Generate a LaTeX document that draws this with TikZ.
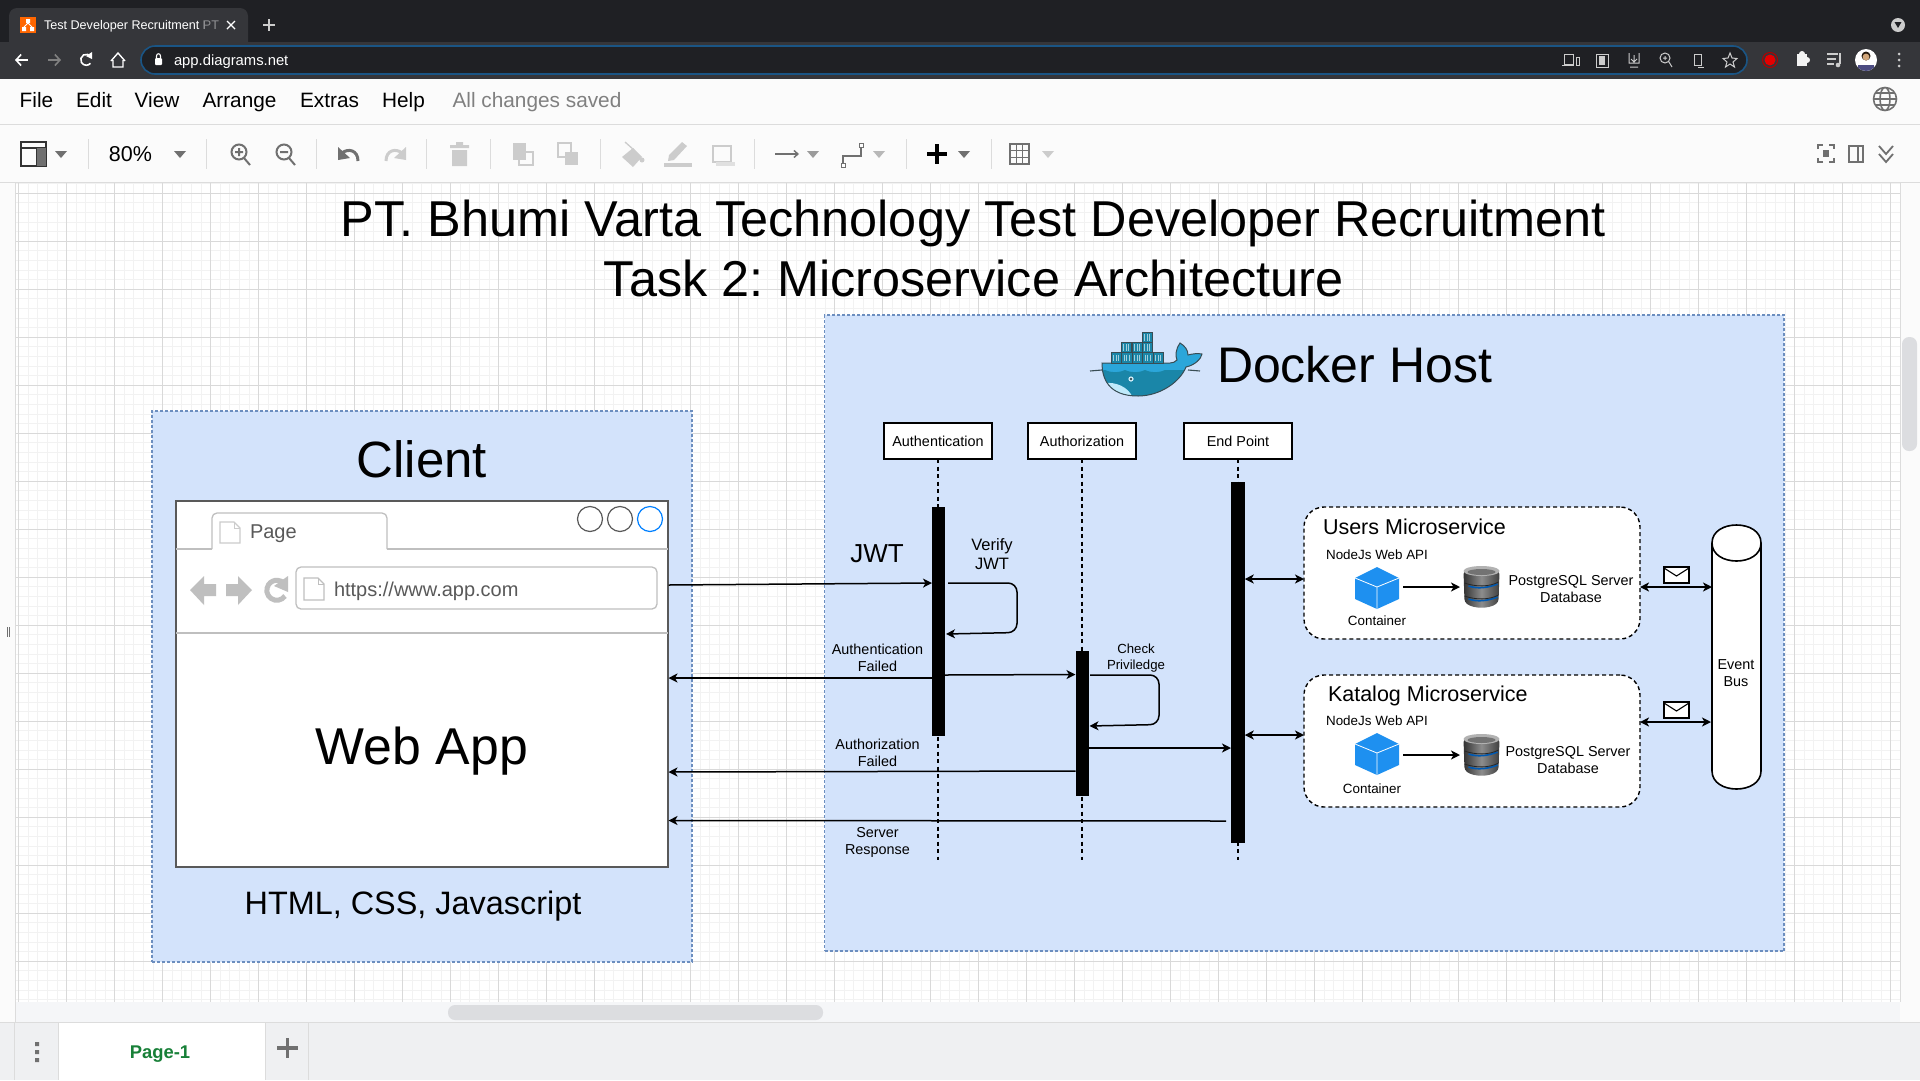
\documentclass[tikz,border=0pt]{standalone}
\usepackage{fontspec}
\setmainfont{Liberation Sans}
\usetikzlibrary{arrows.meta,calc}
\frenchspacing
\definecolor{chromeDark}{HTML}{1F2024}
\definecolor{chromeMid}{HTML}{35363A}
\definecolor{urlBorder}{HTML}{1A5585}
\definecolor{barBg}{HTML}{FBFBFB}
\definecolor{sepLine}{HTML}{DCDCDC}
\definecolor{gridMajor}{HTML}{D9D9D9}
\definecolor{gridMinor}{HTML}{F2F2F2}
\definecolor{boxFill}{HTML}{D3E3FB}
\definecolor{boxEdge}{HTML}{6C8EBF}
\definecolor{iconDim}{HTML}{CCCCCC}
\definecolor{iconMid}{HTML}{707070}
\definecolor{cubeBlue}{HTML}{1E90F0}
\definecolor{whaleLight}{HTML}{2BA6DA}
\definecolor{whaleDark}{HTML}{1A86A8}
\definecolor{whaleEdge}{HTML}{394D54}
\definecolor{bottomBg}{HTML}{EFF0F2}
\definecolor{scrollBg}{HTML}{F5F6F8}
\definecolor{scrollThumb}{HTML}{DCDDE0}
\definecolor{pageGreen}{HTML}{188038}
\newcommand{\pxf}[1]{\fontsize{#1}{\the\dimexpr #1pt*118/100\relax}\selectfont}
\newcommand{\tbtri}[2]{\fill[#2] (#1-6,151) -- (#1+6,151) -- (#1,158) -- cycle;}
\newcommand{\cubeicon}[2]{%
  \fill[cubeBlue] (#1,#2-21) -- (#1+22,#2-10) -- (#1+22,#2+11) -- (#1,#2+21) -- (#1-22,#2+11) -- (#1-22,#2-10) -- cycle;
  \draw[white,line width=.8pt] (#1-22,#2-10) -- (#1,#2-1) -- (#1+22,#2-10) (#1,#2-1) -- (#1,#2+21);}
\newcommand{\dbicon}[2]{%
  \shade[left color=black!80,right color=black!75,middle color=black!45,rounded corners=3pt]
    (#1-18,#2-16) -- (#1+18,#2-16) -- (#1+17,#2+15) .. controls (#1+8,#2+22) and (#1-8,#2+22) .. (#1-17,#2+15) -- cycle;
  \fill[black!30] (#1,#2-16) ellipse (18 and 5);
  \fill[black!55] (#1,#2-15) ellipse (14 and 3);
  \draw[line width=1.6pt,blue!50!cyan!70!black] (#1-13,#2-1) .. controls (#1-4,#2+2) and (#1+6,#2+1) .. (#1+16,#2-3);
  \draw[line width=1.6pt,blue!50!cyan!70!black] (#1-13,#2+12) .. controls (#1-4,#2+15) and (#1+6,#2+14) .. (#1+16,#2+10);
  \draw[black!85,line width=.8pt] (#1-17,#2-4) .. controls (#1-6,#2) and (#1+8,#2) .. (#1+17,#2-5);
  \draw[black!85,line width=.8pt] (#1-17,#2+9) .. controls (#1-6,#2+13) and (#1+8,#2+13) .. (#1+17,#2+8);}
\newcommand{\mailicon}[2]{%
  \draw[black,line width=1.3pt,fill=white] (#1-12.5,#2-8) rectangle (#1+12.5,#2+8);
  \draw[black,line width=1.1pt] (#1-12.5,#2-7) -- (#1,#2+1) -- (#1+12.5,#2-7);}
\newcommand{\docicon}[5]{%
  \draw[#5,line width=1.2pt,fill=white] (#1,#2) -- (#3-6,#2) -- (#3,#2+6) -- (#3,#4) -- (#1,#4) -- cycle;
  \draw[#5,line width=1pt] (#3-6,#2) -- (#3-6,#2+6) -- (#3,#2+6);}
\newcommand{\whalepath}{(1102,363) .. controls (1102,378) and (1108,396) .. (1138,396) .. controls (1160,396) and (1180,382) .. (1186,367) .. controls (1195,365) and (1201,359) .. (1202,354) .. controls (1197,353) and (1192,354) .. (1188,355) .. controls (1188,350) and (1185,346) .. (1180,343) .. controls (1176,348) and (1175,356) .. (1177,360) .. controls (1175,362) and (1173,363) .. (1170,363) -- cycle}
\tikzset{
  every node/.style={inner sep=0pt,outer sep=0pt},
  tip/.style={-{Stealth[length=9pt,width=9pt,inset=2.5pt]}},
  tips/.style={{Stealth[length=9pt,width=9pt,inset=2.5pt]}-{Stealth[length=9pt,width=9pt,inset=2.5pt]}},
  wire/.style={draw=black,line width=1.5pt},
  lifeline/.style={draw=black,line width=1.3pt,dash pattern=on 4pt off 3.5pt},
  groupbox/.style={draw=boxEdge,fill=boxFill,line width=1.2pt,dash pattern=on 3pt off 2pt},
  headbox/.style={draw=black,fill=white,line width=1.4pt,minimum width=108,minimum height=36,font=\pxf{14.4}},
  actbar/.style={fill=black,minimum width=13.5},
  msbox/.style={draw=black,fill=white,line width=1.4pt,rounded corners=20pt,dash pattern=on 4pt off 3pt,minimum width=336,minimum height=132},
  lbl/.style={align=center,font=\pxf{14.4}},
  sublbl/.style={align=center,font=\pxf{13.4}},
  menu/.style={font=\pxf{20.8},text=black,anchor=base},
  sepv/.style={draw=sepLine,line width=1pt},
}
\begin{document}
\begin{tikzpicture}[x=1pt,y=-1pt]
\useasboundingbox (0,0) rectangle (1920,1080);
% ---------- chrome
\fill[white] (0,0) rectangle (1920,1080);
\fill[chromeDark] (0,0) rectangle (1920,42);
\fill[chromeMid] (0,42) rectangle (1920,79);
\fill[chromeMid,rounded corners=8pt] (9,8) rectangle (248,50);
\fill[orange!80!red] (20,17) rectangle (36,33);
\fill[white] (26,19) rectangle (30,23) (22,27) rectangle (26,31) (30,27) rectangle (34,31);
\draw[white,line width=.8pt] (28,23) -- (24,27) (28,23) -- (32,27);
\node[anchor=base west,text=white,font=\pxf{12.6}] (tabtxt) at (44,29.5) {Test Developer Recruitment PT};
\fill[chromeMid,opacity=.55] (204,14) rectangle (222,36);
\draw[white,line width=1.4pt] (227,21) -- (235,29) (235,21) -- (227,29);
\draw[iconDim,line width=1.8pt] (263,25) -- (275,25) (269,19) -- (269,31);
% address row
\draw[white,line width=1.6pt,-{Straight Barb[length=5pt,width=11pt]}] (28,60) -- (15,60);
\draw[gray,line width=1.6pt,-{Straight Barb[length=5pt,width=11pt]}] (48,60) -- (61,60);
\draw[white,line width=1.6pt] (91,57) arc[start angle=-30,end angle=-320,radius=5.5];
\fill[white] (92,52) -- (92,59) -- (86,56) -- cycle;
\draw[white,line width=1.4pt] (111,61) -- (118,53) -- (125,61) (113,60) -- (113,67) -- (123,67) -- (123,60);
\draw[urlBorder,fill=chromeDark,line width=1.6pt,rounded corners=14pt] (141,46) rectangle (1747,74);
\fill[white,rounded corners=1pt] (155,58) rectangle (162,65);
\draw[white,line width=1.1pt] (156.5,58) -- (156.5,56) .. controls (156.5,53) and (160.5,53) .. (160.5,56) -- (160.5,58);
\node[anchor=base west,text=white,font=\pxf{14.8}] (urlbar) at (174,65) {app.diagrams.net};
% address right icons
\draw[iconDim,line width=1pt] (1564,54) rectangle (1573,64) (1562,65) -- (1574,65) (1576,57) rectangle (1579,65);
\draw[iconDim,line width=1pt] (1596,54) rectangle (1608,67);
\fill[iconDim] (1599,56) rectangle (1605,65);
\draw[iconDim,line width=1pt] (1629,53) -- (1629,63) -- (1639,63) -- (1639,53) (1634,55) -- (1634,61) (1631,59) -- (1634,62) -- (1637,59) (1630,67) -- (1638,67);
\draw[iconDim,line width=1pt] (1665,58) circle (5) (1669,62) -- (1672,67) (1663,58) -- (1667,58) (1665,56) -- (1665,60);
\draw[iconDim,line width=1pt] (1694,54) rectangle (1701,65) (1698,67) -- (1704,67) (1701,62) -- (1701,66);
\draw[iconDim,line width=1pt] (1730,53) -- (1732,58) -- (1737,58.5) -- (1733,62) -- (1734.5,67) -- (1730,64) -- (1725.5,67) -- (1727,62) -- (1723,58.5) -- (1728,58) -- cycle;
\draw[red!70!black,line width=1pt] (1770,60) circle (7.5);
\fill[red!90!black] (1770,60) circle (5.5);
\fill[white!90!gray] (1797,54) rectangle (1807,66);
\fill[white!90!gray] (1802,54) circle (3) (1807,60) circle (3);
\draw[iconDim,line width=1.3pt] (1827,54) -- (1838,54) (1827,59) -- (1836,59) (1827,64) -- (1834,64) (1840,53) -- (1840,64);
\fill[iconDim] (1838,65) circle (2.3);
\fill[white] (1866,60) circle (11);
\begin{scope}
\clip (1866,60) circle (11);
\fill[black!80!brown] (1866,56) circle (4.5);
\fill[brown!70!white] (1866,57) circle (3.4);
\fill[blue!30!black!70] (1858,65) rectangle (1874,72);
\end{scope}
\fill[iconDim] (1899,54) circle (1.5) (1899,60) circle (1.5) (1899,66) circle (1.5);
\fill[iconDim] (1898,25) circle (7);
\fill[chromeDark] (1894.5,22) -- (1901.5,22) -- (1898,28) -- cycle;
% menu bar and toolbar
\fill[barBg] (0,79) rectangle (1920,182);
\draw[sepLine,line width=1.2pt] (0,124.7) -- (1920,124.7);
\draw[sepLine,line width=1.2pt] (0,182.5) -- (1920,182.5);
\node[menu] (mFile) at (36.5,107) {File};
\node[menu] (mEdit) at (94,107) {Edit};
\node[menu] (mView) at (157,107) {View};
\node[menu] (mArr) at (239.5,107) {Arrange};
\node[menu] (mExt) at (329.5,107) {Extras};
\node[menu] (mHelp) at (403.5,107) {Help};
\node[menu,text=black!50] (mSaved) at (537,107) {All changes saved};
% globe
\draw[iconMid,line width=1.6pt] (1885,99) circle (11.5) (1885,99) ellipse (5 and 11.5) (1873.5,99) -- (1896.5,99) (1875,93) -- (1895,93) (1875,105) -- (1895,105);
% toolbar separators
\foreach \sx in {88,206,316,426,490,600,754,906,991} \draw[sepv] (\sx,139) -- (\sx,169);
% layout
\draw[black!80,line width=1.5pt] (21,142) rectangle (46,166) (21,148) -- (46,148) (37,148) -- (37,166);
\fill[iconMid] (37,148) rectangle (46,166);
\tbtri{61}{iconMid}
\node[font=\pxf{21.5},text=black] (zoomval) at (130.5,154) {80\%};
\tbtri{180}{iconMid}
% zoom icons
\draw[iconMid,line width=2pt] (239,152) circle (7.5) (244,158) -- (250,165) (235,152) -- (243,152) (239,148) -- (239,156);
\draw[iconMid,line width=2pt] (284,152) circle (7.5) (289,158) -- (295,165) (280,152) -- (288,152);
% undo redo
\draw[iconMid,line width=3pt] (358,161) .. controls (358,150) and (348,148) .. (342,153);
\fill[iconMid] (338,147) -- (338,160) -- (350,158) -- cycle;
\draw[iconDim,line width=3pt] (386,161) .. controls (386,150) and (396,148) .. (402,153);
\fill[iconDim] (406,147) -- (406,160) -- (394,158) -- cycle;
% trash
\fill[iconDim] (450,145) rectangle (469,148) (456,142) rectangle (463,145) (452,150) rectangle (467,166);
% front back
\fill[iconDim] (513,143) rectangle (526,160);
\draw[iconDim,line width=1.2pt] (519,152) rectangle (533,165);
\fill[iconDim] (565,152) rectangle (578,165);
\draw[iconDim,line width=1.2pt] (558,143) rectangle (571,157);
% fill line shadow
\fill[iconDim] (633,148) -- (642,157) -- (633,167) -- (622,157) -- cycle;
\draw[iconDim,line width=1.3pt] (625,142) -- (634,150);
\fill[iconDim] (642,160) circle (2.5);
\fill[iconDim] (664,163) rectangle (692,167);
\fill[iconDim] (682,142) -- (687,146) -- (674,160) -- (668,161) -- (669,155) -- cycle;
\draw[iconDim,line width=1.5pt] (713,146) rectangle (731,162);
\fill[iconDim!60] (716,162) rectangle (735,166);
% connector styles
\draw[iconMid,line width=1.4pt,-{Straight Barb[length=4pt,width=7pt]}] (775,154) -- (799,154);
\tbtri{813}{iconMid!70}
\draw[iconMid,line width=1.3pt] (843,165) -- (843,156) -- (861,156) -- (861,146);
\draw[iconMid,fill=white,line width=1pt] (841,163) rectangle (845,167) (859,143) rectangle (863,147);
\tbtri{879}{iconMid!50}
% plus
\draw[black,line width=4pt] (927,154) -- (947,154) (937,144) -- (937,164);
\tbtri{964}{iconMid}
% table
\draw[iconMid,line width=1.3pt] (1010,144) rectangle (1029,164) (1010,150.7) -- (1029,150.7) (1010,157.3) -- (1029,157.3) (1016.3,144) -- (1016.3,164) (1022.7,144) -- (1022.7,164);
\tbtri{1048}{iconDim}
% right tools
\draw[iconMid,line width=2pt] (1818,149) -- (1818,145) -- (1823,145) (1829,145) -- (1834,145) -- (1834,149) (1834,158) -- (1834,162) -- (1829,162) (1823,162) -- (1818,162) -- (1818,158);
\fill[iconMid] (1823,150) rectangle (1829,157);
\draw[iconMid,line width=1.3pt] (1849,146) rectangle (1863,162) (1858,146) -- (1858,162);
\draw[iconMid,line width=1.8pt] (1879,146) -- (1886,154) -- (1893,146) (1879,154) -- (1886,162) -- (1893,154);
% ---------- canvas
\fill[white] (16,183) rectangle (1900,1002);
\begin{scope}
\clip (16,183) rectangle (1900,1002);
\foreach \k in {0,...,196} {
  \pgfmathsetmacro{\gx}{18.6+9.6*\k}
  \draw[gridMinor,line width=1pt] (\gx,183) -- (\gx,1002);
}
\foreach \k in {0,...,86} {
  \pgfmathsetmacro{\gy}{183.7+9.6*\k}
  \draw[gridMinor,line width=1pt] (16,\gy) -- (1900,\gy);
}
\foreach \k in {0,...,39} {
  \pgfmathsetmacro{\gx}{18.6+48*\k}
  \draw[gridMajor,line width=1pt] (\gx,183) -- (\gx,1002);
}
\foreach \k in {0,...,17} {
  \pgfmathsetmacro{\gy}{193.3+48*\k}
  \draw[gridMajor,line width=1pt] (16,\gy) -- (1900,\gy);
}
\end{scope}
% side strips
\fill[barBg] (0,183) rectangle (16,1022);
\draw[sepLine,line width=1pt] (15.5,183) -- (15.5,1022);
\draw[iconMid,line width=.8pt] (7,627) -- (7,637) (9.5,627) -- (9.5,637);
\fill[barBg] (1900,183) rectangle (1920,1022);
\draw[sepLine,line width=1pt] (1900.5,183) -- (1900.5,1002);
\fill[scrollThumb,rounded corners=7pt] (1902,337) rectangle (1917,451);
\fill[scrollBg] (16,1002) rectangle (1900,1022);
\fill[scrollThumb,rounded corners=7pt] (448,1005) rectangle (823,1020);
\fill[bottomBg] (0,1022) rectangle (1920,1080);
\draw[sepLine,line width=1pt] (0,1022.5) -- (1920,1022.5);
\fill[white] (58,1023) rectangle (265,1080);
\draw[sepLine,line width=.8pt] (58,1023) -- (58,1080) (265,1023) -- (265,1080) (308,1023) -- (308,1080) (14.5,1023) -- (14.5,1080);
\fill[iconMid] (35,1042) rectangle (39,1046) (35,1050) rectangle (39,1054) (35,1058) rectangle (39,1062);
\node[font=\bfseries\pxf{18.4},text=pageGreen] (pagetab) at (160,1054) {Page-1};
\draw[iconMid,line width=3.5pt] (277,1048) -- (298,1048) (287.5,1038) -- (287.5,1058);
% ---------- title
\node[font=\pxf{50.4}] (title1) at (973.5,223) {PT. Bhumi Varta Technology Test Developer Recruitment};
\node[font=\pxf{50.4}] (title2) at (973.5,278) {Task 2: Microservice Architecture};
% ---------- client
\node[groupbox,minimum width=540,minimum height=551] (client) at (422,686.5) {};
\node[font=\pxf{51}] (clientT) at (422,459) {Client};
\node[draw=black!65,fill=white,line width=1.5pt,minimum width=492,minimum height=366] (browser) at (422,684) {};
\draw[black!25,line width=1.3pt,fill=white,rounded corners=5pt] (212,549) -- (212,513) -- (387,513) -- (387,549);
\draw[black!25,line width=1.3pt] (176,549) -- (212,549) (387,549) -- (668,549) (176,633) -- (668,633);
\docicon{220}{522}{240}{543}{black!20}
\node[anchor=west,font=\pxf{20},text=black!65] (pageT) at (250,533.5) {Page};
\draw[black!65,line width=1.2pt] (590,519) circle (12.5) (620,519) circle (12.5);
\draw[blue!50!cyan,line width=1.2pt] (650,519) circle (12.5);
\fill[black!25] (190,590) -- (204,576) -- (204,584) -- (216,584) -- (216,596) -- (204,596) -- (204,605) -- cycle;
\fill[black!25] (252,590) -- (238,576) -- (238,584) -- (226,584) -- (226,596) -- (238,596) -- (238,605) -- cycle;
\draw[black!25,line width=5pt] (285,596) arc[start angle=35,end angle=315,radius=10];
\fill[black!25] (288,576) -- (288,592) -- (274,586) -- cycle;
\node[draw=black!25,fill=white,line width=1.3pt,rounded corners=5pt,minimum width=361,minimum height=42] (urlbox) at (476.5,588) {};
\docicon{304}{578}{324}{600}{black!25}
\node[anchor=west,font=\pxf{20},text=black!65] (urlT) at (334,591.5) {https://www.app.com};
\node[font=\pxf{51.8}] (webapp) at (422,751) {Web App};
\node[font=\pxf{32.4}] (stack) at (413,906) {HTML, CSS, Javascript};
% ---------- docker host
\node[groupbox,minimum width=959.5,minimum height=636,anchor=north west] (docker) at (824.5,315) {};
\node[anchor=west,font=\pxf{50}] (dockerT) at (1217,364.5) {Docker Host};
% whale
\begin{scope}
\fill[whaleLight] \whalepath;
\clip \whalepath;
\fill[whaleDark] (1095,372) -- (1105,370) .. controls (1112,373) and (1118,373) .. (1125,370) .. controls (1132,373) and (1138,373) .. (1145,370) .. controls (1152,373) and (1158,373) .. (1165,370) -- (1200,370) -- (1200,400) -- (1095,400) -- cycle;
\fill[white!75!cyan] (1105,383) .. controls (1115,382) and (1128,386) .. (1133,398) -- (1105,398) -- cycle;
\end{scope}
\draw[whaleEdge,line width=1pt] \whalepath;
\draw[whaleEdge,line width=1.1pt] (1090,371) -- (1102,370) (1188,370) -- (1200,371);
\fill[white!85!cyan] (1131,379) circle (2.6);
\fill[whaleEdge] (1131,379) circle (1.4);
\foreach \cx/\cy in {1142/332,1121/342,1132/342,1142/342,1111/352.5,1121.5/352.5,1132/352.5,1142.5/352.5,1153/352.5} {
  \draw[whaleEdge,fill=whaleDark,line width=.7pt] (\cx,\cy) rectangle ++(10.5,10.5);
  \draw[white!60!whaleDark,line width=.5pt] (\cx+2.5,\cy+2) -- ++(0,6.5) (\cx+5,\cy+2) -- ++(0,6.5) (\cx+7.5,\cy+2) -- ++(0,6.5);
}
% lifelines
\node[headbox] (hAuth) at (938,441) {Authentication};
\node[headbox] (hAuthz) at (1082,441) {Authorization};
\node[headbox] (hEnd) at (1238,441) {End Point};
\coordinate (endAuth) at (938,860);
\coordinate (endAuthz) at (1082,860);
\coordinate (endEnd) at (1238,860);
\draw[lifeline] (hAuth.south) -- (endAuth);
\draw[lifeline] (hAuthz.south) -- (endAuthz);
\draw[lifeline] (hEnd.south) -- (endEnd);
\node[actbar,minimum height=229] (barAuth) at (938.5,621.5) {};
\node[actbar,minimum height=145] (barAuthz) at (1082.5,723.5) {};
\node[actbar,minimum height=361] (barEnd) at (1238,662.5) {};
% microservice boxes
\node[msbox] (ums) at (1472,573) {};
\node[msbox] (kms) at (1472,741) {};
\node[anchor=west,font=\pxf{21.5}] (umsT) at (1323,527) {Users Microservice};
\node[anchor=west,font=\pxf{21.5}] (kmsT) at (1328,696) {Katalog Microservice};
\node[sublbl] (nodeU) at (1377,555) {NodeJs Web API};
\node[sublbl] (nodeK) at (1377,721) {NodeJs Web API};
\cubeicon{1377}{588}
\cubeicon{1377}{754}
\coordinate (cubeU) at (1403,587);
\coordinate (cubeK) at (1403,755);
\coordinate (dbU) at (1460,587);
\coordinate (dbK) at (1460,755);
\draw[wire,tip] (cubeU) -- (dbU);
\draw[wire,tip] (cubeK) -- (dbK);
\dbicon{1481.5}{587}
\dbicon{1481.5}{755}
\node[sublbl] (contU) at (1377,621) {Container};
\node[sublbl] (contK) at (1372,789) {Container};
\node[lbl] (pgU) at (1571,589) {PostgreSQL Server\\Database};
\node[lbl] (pgK) at (1568,760) {PostgreSQL Server\\Database};
% event bus
\draw[black,fill=white,line width=1.6pt] (1712,543) .. controls (1712,519) and (1761,519) .. (1761,543) -- (1761,771) .. controls (1761,795) and (1712,795) .. (1712,771) -- cycle;
\draw[black,line width=1.6pt] (1712,543) .. controls (1712,567) and (1761,567) .. (1761,543);
\node[lbl] (bus) at (1736,673.5) {Event\\Bus};
\coordinate (busU) at (1712,587);
\coordinate (busK) at (1711,722);
\coordinate (msU) at (1640,587);
\coordinate (msK) at (1640,722);
\draw[wire,tips] (msU) -- (busU);
\draw[wire,tips] (msK) -- (busK);
\mailicon{1676.5}{575}
\mailicon{1676.5}{710}
\coordinate (lvU) at (0,579);
\coordinate (lvK) at (0,735);
\draw[wire,tips] (barEnd.east |- lvU) -- (ums.west |- lvU);
\draw[wire,tips] (barEnd.east |- lvK) -- (kms.west |- lvK);
% sequence messages
\coordinate (jwtA) at (668.5,585);
\coordinate (jwtB) at (932,583);
\draw[wire,tip] (jwtA) -- (jwtB);
\coordinate (selfA1) at (948,583);
\coordinate (selfA2) at (946,634);
\draw[wire,tip,rounded corners=9pt] (selfA1) -- (1017,583) -- (1017,632.5) -- (selfA2);
\coordinate (failA) at (931.5,678);
\coordinate (cliA) at (668.5,678);
\draw[wire,tip] (failA) -- (cliA);
\coordinate (passA) at (945,675);
\coordinate (passB) at (1075.5,674.5);
\draw[wire,tip] (passA) -- (passB);
\coordinate (selfB1) at (1090,675);
\coordinate (selfB2) at (1089.5,726);
\draw[wire,tip,rounded corners=9pt] (selfB1) -- (1159,675) -- (1159,724.5) -- (selfB2);
\coordinate (fwdA) at (1089,748);
\coordinate (fwdB) at (1231,748);
\draw[wire,tip] (fwdA) -- (fwdB);
\coordinate (failB) at (1075.5,771);
\coordinate (cliB) at (668.5,772);
\draw[wire,tip] (failB) -- (cliB);
\coordinate (respA) at (1226,821);
\coordinate (respB) at (668.5,820.5);
\draw[wire,tip] (respA) -- (respB);
% message labels
\node[font=\pxf{26}] (jwtL) at (877,554) {JWT};
\node[lbl,font=\pxf{16.5}] (verL) at (992,554) {Verify\\JWT};
\node[lbl] (afL) at (877.5,657.5) {Authentication\\Failed};
\node[lbl] (azL) at (877.5,752.5) {Authorization\\Failed};
\node[lbl,font=\pxf{13.2}] (chkL) at (1136,658) {Check\\Priviledge};
\node[lbl] (srvL) at (877.5,842.5) {Server\\Response};
\end{tikzpicture}
\end{document}
